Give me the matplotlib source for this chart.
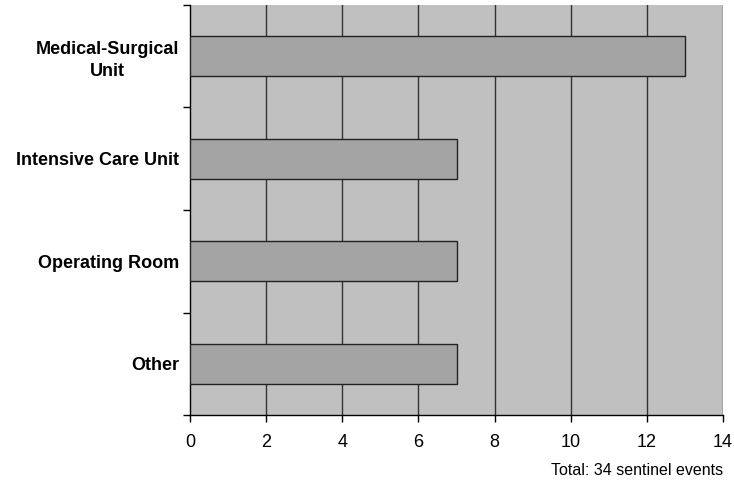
import matplotlib.pyplot as plt
import numpy as np

categories = ['Medical-Surgical\nUnit', 'Intensive Care Unit', 'Operating Room', 'Other']
counts = [13, 7, 7, 7]
xticks = [0, 2, 4, 6, 8, 10, 12, 14]

plt.rcParams['font.family'] = ['Liberation Sans', 'DejaVu Sans']

fig = plt.figure(figsize=(7.34, 4.86), dpi=100)
ax = fig.add_axes([190 / 734, 1 - 415 / 486, 533 / 734, 410 / 486])
ax.set_facecolor('#c0c0c0')

pos = np.arange(len(categories))[::-1]
ax.barh(pos, counts, height=0.39, color='#a4a4a4', edgecolor='#222222', linewidth=1, zorder=3)

ax.set_xlim(0, 14)
ax.set_ylim(-0.5, len(categories) - 0.5)
ax.set_xticks(xticks)
ax.set_xticklabels([str(v) for v in xticks], fontsize=13)
for v in xticks[1:]:
    ax.axvline(v, color='#333333', lw=1, zorder=1)

ax.set_yticks(pos)
ax.set_yticklabels(categories, fontsize=13, fontweight='bold', ha='right',
                   multialignment='center', linespacing=1.35)
ax.tick_params(axis='y', which='major', length=0, pad=8)
ax.set_yticks(np.arange(-0.5, len(categories)), minor=True)
ax.tick_params(axis='y', which='minor', length=5, width=1)
ax.tick_params(axis='x', length=5, width=1, pad=9)

for s in ['top', 'right']:
    ax.spines[s].set_visible(False)
ax.spines['left'].set_linewidth(1)
ax.spines['bottom'].set_linewidth(1)

fig.text(723 / 734, 1 - 470 / 486, 'Total: 34 sentinel events', ha='right', va='center', fontsize=11.5)

fig.savefig('out.png', dpi=100)
